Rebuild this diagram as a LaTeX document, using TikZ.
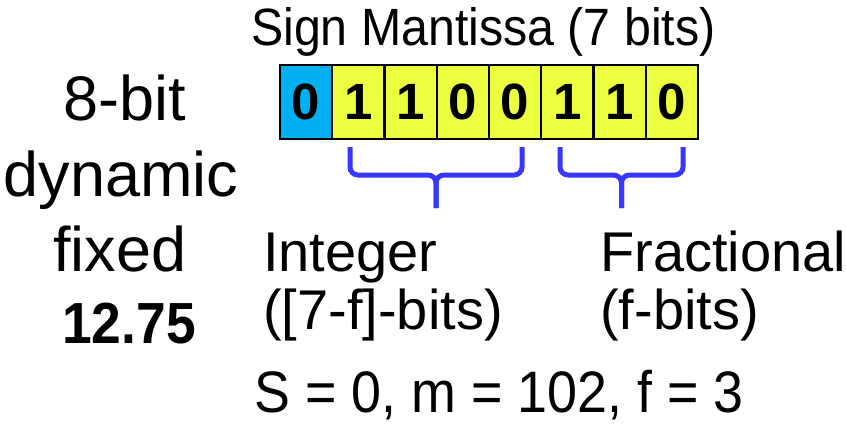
\documentclass[tikz,border=0pt]{standalone}
\usepackage{fontspec}
\setmainfont{Liberation Sans}
\newfontfamily\narrowsans[FakeStretch=0.92]{Liberation Sans}
\definecolor{signblue}{RGB}{0,176,240}
\definecolor{bityellow}{RGB}{236,255,62}
\definecolor{braceblue}{RGB}{55,55,255}
\begin{document}
\begin{tikzpicture}[x=1pt,y=-1pt,
  bitcell/.style={draw=black,line width=2.2pt,minimum width=52.25pt,minimum height=74pt,
    inner sep=0pt,font=\fontsize{51}{51}\selectfont\bfseries},
  brace/.style={draw=braceblue,line width=5pt,rounded corners=8pt},
  label/.style={inner sep=0pt,anchor=base west},
  sidetext/.style={inner sep=0pt,anchor=base,font=\fontsize{63}{63}\selectfont}]
\useasboundingbox (0,0) rectangle (846,426);

% bit cells: sign bit then 7 mantissa bits
\foreach \b [count=\i from 0] in {0,1,1,0,0,1,1,0}{
  \ifnum\i=0
    \node[bitcell,fill=signblue] (c\i) at ({306.1+52.25*\i},102) {\b};
  \else
    \node[bitcell,fill=bityellow] (c\i) at ({306.1+52.25*\i},102) {\b};
  \fi
}

% header
\node[label,font=\fontsize{52.5}{52.5}\narrowsans] (head) at (251,45) {Sign Mantissa (7 bits)};

% left caption
\node[sidetext] (l1) at (125,120) {8-bit};
\node[sidetext] (l2) at (121,196) {dynamic};
\node[sidetext] (l3) at (120,271) {fixed};
\node[sidetext,font=\fontsize{58}{58}\narrowsans\bfseries] (l4) at (129,343) {12.75};

% braces under the integer and fractional fields
\coordinate (ia) at (350,147);
\coordinate (ib) at (522,147);
\coordinate (im) at (436,175);
\coordinate (it) at (436,208);
\draw[brace] (ia) |- (im) -- (it);
\draw[brace] (ib) |- (im) -- (it);
\coordinate (fa) at (560,147);
\coordinate (fb) at (683,147);
\coordinate (fm) at (621.5,175);
\coordinate (ft) at (621.5,208);
\draw[brace] (fa) |- (fm) -- (ft);
\draw[brace] (fb) |- (fm) -- (ft);

% field labels
\node[label,font=\fontsize{56}{56}\selectfont] (int1) at (263,271) {Integer};
\node[label,font=\fontsize{56}{56}\selectfont] (int2) at (263,329) {([7-f]-bits)};
\node[label,font=\fontsize{56}{56}\selectfont] (fr1) at (600,271) {Fractional};
\node[label,font=\fontsize{56}{56}\selectfont] (fr2) at (600,329) {(f-bits)};

% parameters
\node[label,text depth=0pt,font=\fontsize{58.5}{58.5}\narrowsans] (par) at (254,412) {S = 0, m = 102, f = 3};
\end{tikzpicture}
\end{document}
